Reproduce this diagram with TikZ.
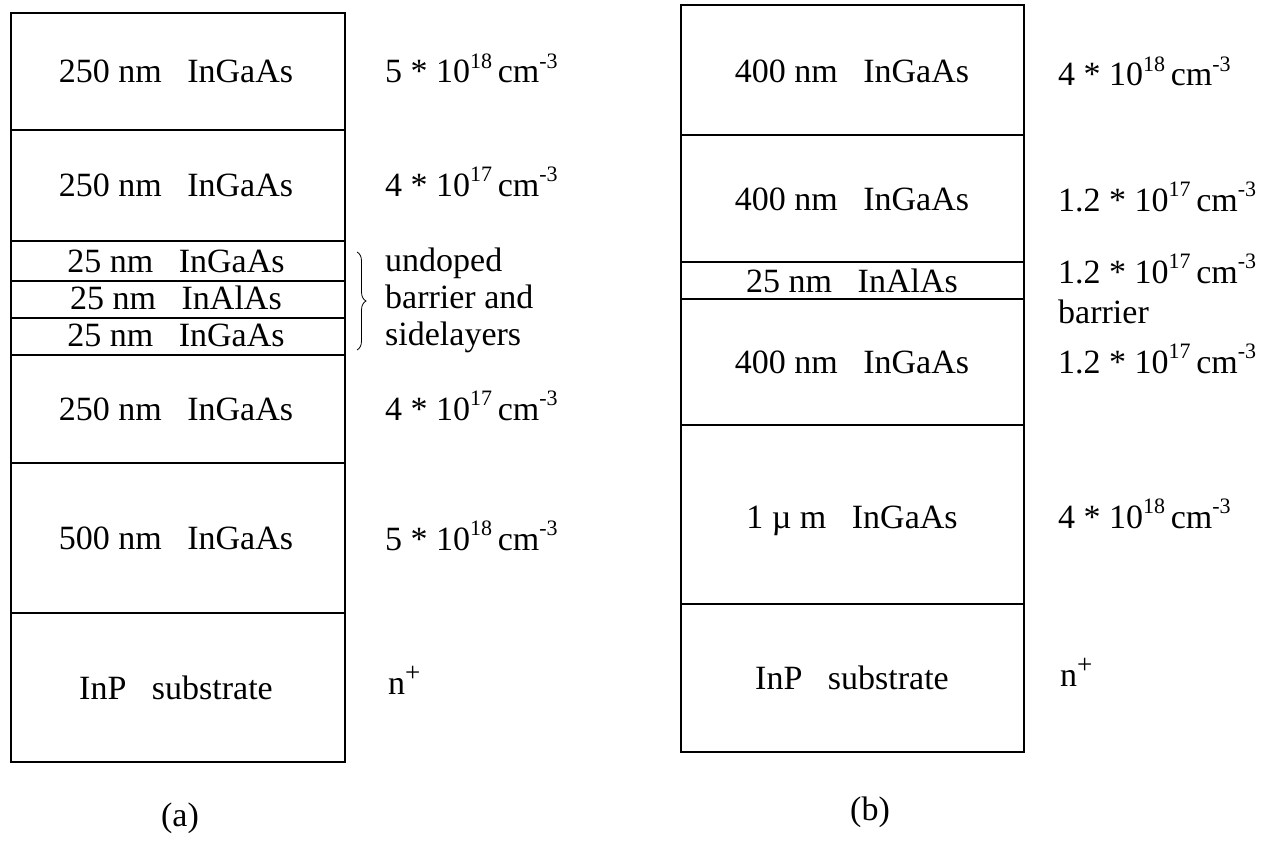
\documentclass[tikz,border=0pt]{standalone}
\usepackage{fontspec}
\setmainfont{Liberation Serif}
\usetikzlibrary{decorations.pathreplacing}
\newcommand{\mysup}[1]{\raisebox{0.42em}{\fontsize{22}{22}\selectfont #1}}
\newcommand{\myplus}{\raisebox{0.38em}{\fontsize{27}{27}\selectfont +}}
\newcommand{\mydens}[2]{#1 * 10\mysup{#2}\,cm\mysup{-3}}
\newcommand{\mygap}{\hspace{0.75em}}
\begin{document}
\begin{tikzpicture}[x=1pt,y=-1pt,
  layer/.style={draw=black, line width=1.3pt},
  lbl/.style={font=\fontsize{34}{40}\selectfont, inner sep=0pt},
  mat/.style={lbl, anchor=base},
  dop/.style={lbl, anchor=base west}]
\useasboundingbox (0,0) rectangle (1273,840);
% ---------- (a) ----------
\draw[layer] (11,13) rectangle (345,762);
\foreach \y in {130,241,281,318,355,463,613} \draw[layer] (11,\y) -- (345,\y);
\node[mat] (a1) at (176,83)  {250 nm\mygap InGaAs};
\node[mat] (a2) at (176,196) {250 nm\mygap InGaAs};
\node[mat] (a3) at (176,272) {25 nm\mygap InGaAs};
\node[mat] (a4) at (176,309) {25 nm\mygap InAlAs};
\node[mat] (a5) at (176,346) {25 nm\mygap InGaAs};
\node[mat] (a6) at (176,420) {250 nm\mygap InGaAs};
\node[mat] (a7) at (176,549) {500 nm\mygap InGaAs};
\node[mat] (a8) at (176,699) {InP\mygap substrate};
\node[dop] (da1) at (385,83)  {\mydens{5}{18}};
\node[dop] (da2) at (385,196) {\mydens{4}{17}};
\node[dop] (da3) at (385,271) {undoped};
\node[dop] (da4) at (385,308) {barrier and};
\node[dop] (da5) at (385,345) {sidelayers};
\node[dop] (da6) at (385,420) {\mydens{4}{17}};
\node[dop] (da7) at (385,550) {\mydens{5}{18}};
\node[dop] (da8) at (388,694) {n\myplus};
\draw[decorate, decoration={brace, amplitude=9pt}, line width=0.8pt] (357,252) -- (357,350);
\node[lbl] (capa) at (180,818) {(a)};
% ---------- (b) ----------
\draw[layer] (681,5) rectangle (1024,752);
\foreach \y in {135,262,299,425,604} \draw[layer] (681,\y) -- (1024,\y);
\node[mat] (b1) at (852,83)  {400 nm\mygap InGaAs};
\node[mat] (b2) at (852,210) {400 nm\mygap InGaAs};
\node[mat] (b3) at (852,292) {25 nm\mygap InAlAs};
\node[mat] (b4) at (852,373) {400 nm\mygap InGaAs};
\node[mat] (b5) at (852,528) {1 µ m\mygap InGaAs};
\node[mat] (b6) at (852,689) {InP\mygap substrate};
\node[dop] (db1) at (1058,86)  {\mydens{4}{18}};
\node[dop] (db2) at (1058,211) {\mydens{1.2}{17}};
\node[dop] (db3) at (1058,283) {\mydens{1.2}{17}};
\node[dop] (db4) at (1058,323) {barrier};
\node[dop] (db5) at (1058,373) {\mydens{1.2}{17}};
\node[dop] (db6) at (1058,528) {\mydens{4}{18}};
\node[dop] (db7) at (1060,686) {n\myplus};
\node[lbl] (capb) at (870,812) {(b)};
\end{tikzpicture}
\end{document}
